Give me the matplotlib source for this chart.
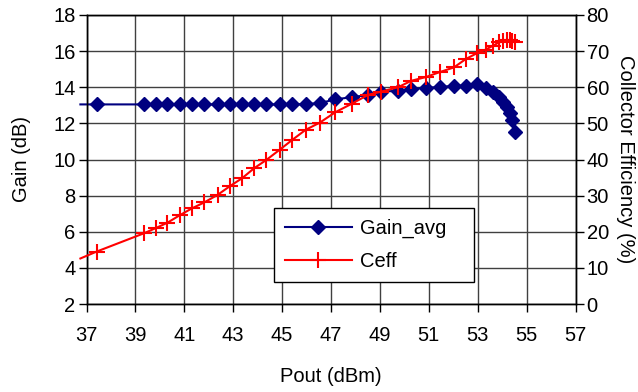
import numpy as np
import matplotlib
matplotlib.use('Agg')
import matplotlib.pyplot as plt

plt.rcParams['font.family'] = ['Liberation Sans', 'DejaVu Sans']

# data
pout = [36.75, 37.41, 39.36, 39.83, 40.31, 40.82, 41.32, 41.81, 42.36, 42.86,
        43.36, 43.86, 44.36, 44.90, 45.41, 45.96, 46.54, 47.18, 47.84, 48.52,
        49.06, 49.74, 50.29, 50.87, 51.45, 52.03, 52.51, 52.99, 53.32, 53.63,
        53.86, 54.04, 54.18, 54.31, 54.41, 54.52]
gain = [13.05, 13.05, 13.05, 13.05, 13.05, 13.05, 13.05, 13.05, 13.05, 13.05,
        13.05, 13.05, 13.05, 13.05, 13.05, 13.07, 13.12, 13.33, 13.45, 13.57,
        13.75, 13.81, 13.89, 13.98, 14.00, 14.09, 14.09, 14.16, 13.94, 13.75,
        13.48, 13.20, 12.92, 12.56, 12.19, 11.52]
ceff = [12.6, 14.5, 19.6, 21.0, 22.5, 24.6, 26.5, 28.1, 30.2, 32.6,
        34.8, 37.6, 39.9, 42.7, 45.4, 48.2, 50.2, 53.1, 55.4, 57.9,
        58.8, 60.0, 61.8, 62.8, 64.2, 65.5, 67.8, 69.5, 70.4, 71.5,
        72.4, 72.7, 73.0, 73.0, 72.7, 72.4]

fs = 14.5
fig = plt.figure(figsize=(6.38, 3.92), dpi=100)
ax = fig.add_axes([86.5 / 638, 1 - 304 / 392, (575.5 - 86.5) / 638, (304 - 15) / 392])
ax2 = ax.twinx()

marks = list(range(1, len(pout)))
l1, = ax.plot(pout, gain, color='#000080', lw=1.5, marker='D', ms=7.5,
              markevery=marks, clip_on=False, label='Gain_avg   ', zorder=3)
l2, = ax2.plot(pout, ceff, color='#ff0000', lw=1.5, marker='+', ms=12, mew=1.5,
               markevery=marks, clip_on=False, label='Ceff', zorder=3)

ax.set_xlim(37, 57)
ax.set_ylim(2, 18)
ax2.set_ylim(0, 80)
ax.set_xticks(np.arange(37, 58, 2))
ax.set_yticks(np.arange(2, 19, 2))
ax2.set_yticks(np.arange(0, 81, 10))
ax.grid(True, color='#404040', lw=1.0)
ax.set_axisbelow(True)

for a in (ax, ax2):
    a.tick_params(labelsize=fs, length=6, width=1, color='black', pad=2)
    for s in a.spines.values():
        s.set_linewidth(1.0)
        s.set_color('black')
ax.tick_params(axis='x', pad=10)

ax.set_xlabel('Pout (dBm)', fontsize=fs, labelpad=16)
ax.set_ylabel('Gain (dB)', fontsize=fs, labelpad=16)
ax2.set_ylabel('Collector Efficiency (%)', fontsize=fs, rotation=-90, labelpad=19)

ax2.set_zorder(ax.get_zorder() + 1)
leg = ax2.legend(handles=[l1, l2], loc='upper left',
                 bbox_to_anchor=((274 - 86.5) / 489, 1 - (207.7 - 15) / 289),
                 fontsize=fs, fancybox=False, edgecolor='black', framealpha=1,
                 handlelength=3.3, borderpad=0.55, labelspacing=0.7,
                 handletextpad=0.4, borderaxespad=0)
leg.get_frame().set_linewidth(1.0)

fig.savefig('out.png', dpi=100)
